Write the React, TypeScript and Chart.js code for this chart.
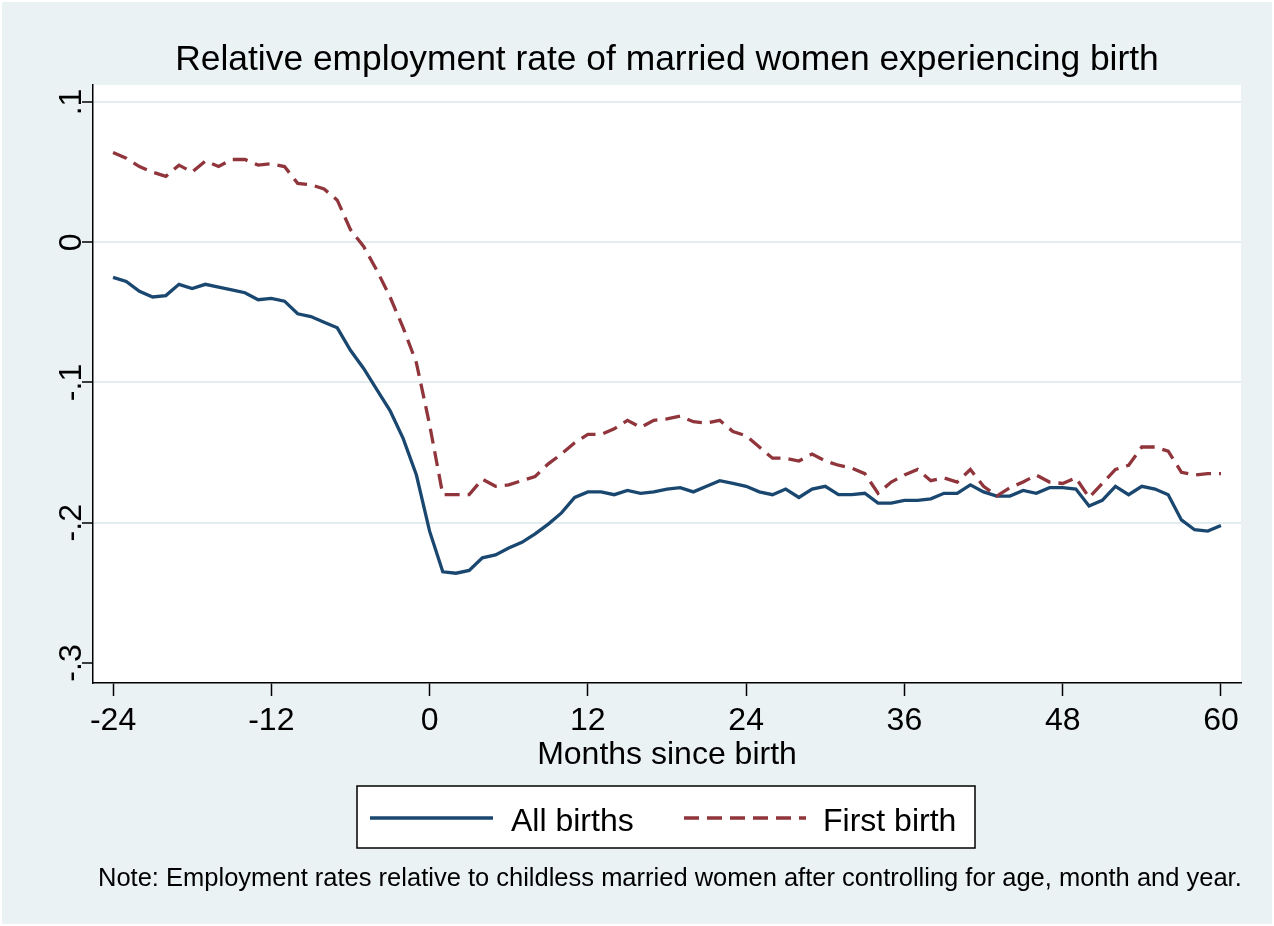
import React, { useEffect, useRef } from "react";
import { Chart, registerables } from "chart.js";

Chart.register(...registerables);

// ---- data ----
const months: number[] = Array.from({ length: 85 }, (_, i) => i - 24);

const allBirths: number[] = [
  -0.025, -0.028, -0.035, -0.039, -0.038, -0.030, -0.033, -0.030, -0.032, -0.034,
  -0.036, -0.041, -0.040, -0.042, -0.051, -0.053, -0.057, -0.061, -0.077, -0.090,
  -0.105, -0.120, -0.140, -0.166, -0.206, -0.235, -0.236, -0.234, -0.225, -0.223,
  -0.218, -0.214, -0.208, -0.201, -0.193, -0.182, -0.178, -0.178, -0.180, -0.177,
  -0.179, -0.178, -0.176, -0.175, -0.178, -0.174, -0.170, -0.172, -0.174, -0.178,
  -0.180, -0.176, -0.182, -0.176, -0.174, -0.180, -0.180, -0.179, -0.186, -0.186,
  -0.184, -0.184, -0.183, -0.179, -0.179, -0.173, -0.178, -0.181, -0.181, -0.177,
  -0.179, -0.175, -0.175, -0.176, -0.188, -0.184, -0.174, -0.180, -0.174, -0.176,
  -0.180, -0.198, -0.205, -0.206, -0.202,
];

const firstBirth: number[] = [
  0.064, 0.060, 0.054, 0.050, 0.047, 0.055, 0.050, 0.058, 0.054, 0.059,
  0.059, 0.055, 0.056, 0.054, 0.042, 0.041, 0.038, 0.030, 0.009, -0.003,
  -0.020, -0.039, -0.061, -0.086, -0.130, -0.180, -0.180, -0.180, -0.169, -0.174,
  -0.173, -0.170, -0.167, -0.158, -0.151, -0.143, -0.137, -0.137, -0.133, -0.127,
  -0.132, -0.127, -0.126, -0.124, -0.128, -0.129, -0.127, -0.135, -0.138, -0.146,
  -0.154, -0.154, -0.156, -0.151, -0.156, -0.159, -0.161, -0.165, -0.179, -0.171,
  -0.166, -0.162, -0.170, -0.168, -0.171, -0.162, -0.174, -0.181, -0.175, -0.171,
  -0.166, -0.171, -0.172, -0.168, -0.182, -0.172, -0.162, -0.159, -0.146, -0.146,
  -0.149, -0.164, -0.166, -0.165, -0.165,
];

const xTickValues: number[] = [-24, -12, 0, 12, 24, 36, 48, 60];
const yTickValues: number[] = [0.1, 0, -0.1, -0.2, -0.3];
const yTickLabels: string[] = [".1", "0", "-.1", "-.2", "-.3"];

const titleText = "Relative employment rate of married women experiencing birth";
const xTitleText = "Months since birth";
const seriesNames: string[] = ["All births", "First birth"];
const noteText =
  "Note: Employment rates relative to childless married women after controlling for age, month and year.";

const FONT = "'Liberation Sans', Arial, Helvetica, sans-serif";
const BLUE = "#1A476F";
const RED = "#90353B";
const BG = "#EAF2F3";
const DASH = [15, 8];

const decor = {
  id: "decor",
  beforeDraw(chart: any) {
    const { ctx, chartArea: a, width, height } = chart;
    ctx.save();
    ctx.fillStyle = BG;
    ctx.fillRect(0, 0, width, height);
    ctx.strokeStyle = "#FFFFFF";
    ctx.lineWidth = 2;
    ctx.strokeRect(1, 1, width - 2, height - 2);
    ctx.fillStyle = "#FFFFFF";
    ctx.fillRect(a.left, a.top, a.right - a.left, a.bottom - a.top);
    ctx.restore();
  },
  afterDraw(chart: any) {
    const { ctx, chartArea: a } = chart;
    const ys = chart.scales.y;
    const cx = (a.left + a.right) / 2;
    ctx.save();
    ctx.fillStyle = "#000";
    // title
    ctx.font = `35.4px ${FONT}`;
    ctx.textAlign = "center";
    ctx.textBaseline = "alphabetic";
    ctx.fillText(titleText, cx, 70);
    // y tick labels (rotated)
    ctx.font = `32px ${FONT}`;
    yTickValues.forEach((v, i) => {
      const py = ys.getPixelForValue(v);
      ctx.save();
      ctx.translate(81, py);
      ctx.rotate(-Math.PI / 2);
      ctx.textAlign = "center";
      ctx.textBaseline = "alphabetic";
      ctx.fillText(yTickLabels[i], 0, 0);
      ctx.restore();
    });
    // x axis title
    ctx.font = `32px ${FONT}`;
    ctx.textAlign = "center";
    ctx.fillText(xTitleText, cx, 764);
    // legend box
    const lx = 357, ly = 786, lw = 618, lh = 62;
    ctx.fillStyle = "#FFFFFF";
    ctx.fillRect(lx, ly, lw, lh);
    ctx.strokeStyle = "#000";
    ctx.lineWidth = 1.5;
    ctx.strokeRect(lx, ly, lw, lh);
    const midY = 818;
    ctx.lineWidth = 3.3;
    ctx.strokeStyle = BLUE;
    ctx.setLineDash([]);
    ctx.beginPath();
    ctx.moveTo(370, midY);
    ctx.lineTo(493, midY);
    ctx.stroke();
    ctx.strokeStyle = RED;
    ctx.setLineDash(DASH);
    ctx.beginPath();
    ctx.moveTo(684, midY);
    ctx.lineTo(806, midY);
    ctx.stroke();
    ctx.setLineDash([]);
    ctx.fillStyle = "#000";
    ctx.font = `32px ${FONT}`;
    ctx.textAlign = "left";
    ctx.fillText(seriesNames[0], 511, 831);
    ctx.fillText(seriesNames[1], 823, 831);
    // note
    ctx.font = `25.5px ${FONT}`;
    ctx.textAlign = "left";
    ctx.fillText(noteText, 98, 886);
    ctx.restore();
  },
};

export default function App() {
  const ref = useRef<HTMLCanvasElement | null>(null);
  useEffect(() => {
    document.body.style.margin = "0";
    const canvas = ref.current;
    if (!canvas) return;
    const chart = new Chart(canvas, {
      type: "line",
      data: {
        datasets: [
          {
            label: seriesNames[1],
            data: months.map((m, i) => ({ x: m, y: firstBirth[i] })),
            borderColor: RED,
            borderWidth: 3.3,
            borderDash: DASH,
            pointRadius: 0,
            tension: 0,
            fill: false,
            order: 0,
          },
          {
            label: seriesNames[0],
            data: months.map((m, i) => ({ x: m, y: allBirths[i] })),
            borderColor: BLUE,
            borderWidth: 3.3,
            pointRadius: 0,
            tension: 0,
            fill: false,
            order: 1,
          },
        ],
      },
      options: {
        responsive: false,
        animation: false,
        devicePixelRatio: 1,
        layout: { padding: { top: 85, right: 33, left: 0, bottom: 0 } },
        plugins: {
          legend: { display: false },
          title: { display: false },
          tooltip: { enabled: false },
        },
        scales: {
          x: {
            type: "linear",
            min: -25.52,
            max: 61.52,
            afterBuildTicks: (s: any) => {
              s.ticks = xTickValues.map((v) => ({ value: v }));
            },
            afterFit: (s: any) => {
              s.height = 243;
            },
            grid: {
              drawOnChartArea: false,
              drawTicks: true,
              tickLength: 13,
              tickColor: "#000",
              tickWidth: 1.5,
            },
            border: { display: true, color: "#000", width: 1.5 },
            ticks: {
              autoSkip: false,
              maxRotation: 0,
              minRotation: 0,
              padding: 6,
              color: "#000",
              font: { family: FONT, size: 32 },
              callback: (v: any) => String(v),
            },
          },
          y: {
            type: "linear",
            min: -0.31429,
            max: 0.11214,
            afterBuildTicks: (s: any) => {
              s.ticks = yTickValues.map((v) => ({ value: v }));
            },
            afterFit: (s: any) => {
              s.width = 93;
            },
            grid: {
              color: (c: any) =>
                c.tick && c.tick.value === -0.3 ? "rgba(0,0,0,0)" : "#E3ECEE",
              lineWidth: 2,
              drawTicks: true,
              tickLength: 11,
              tickColor: "#000",
              tickWidth: 1.5,
            },
            border: { display: true, color: "#000", width: 1.5 },
            ticks: { display: false },
          },
        },
      },
      plugins: [decor],
    });
    return () => chart.destroy();
  }, []);
  return (
    <canvas
      ref={ref}
      width={1274}
      height={926}
      style={{ display: "block", width: 1274, height: 926 }}
    />
  );
}
